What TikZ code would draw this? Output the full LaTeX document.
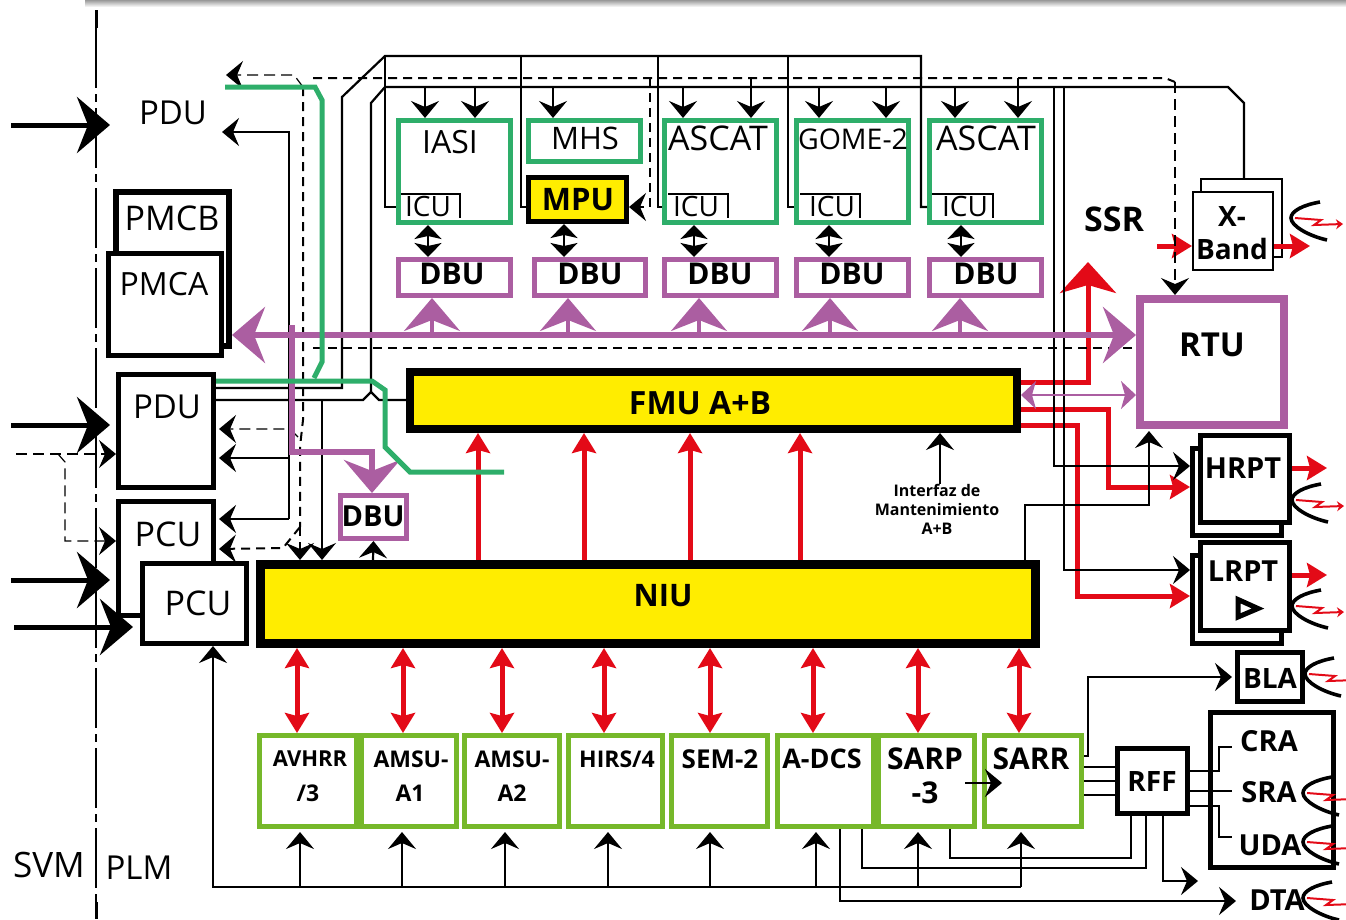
\documentclass[tikz,border=0pt]{standalone}
\usepackage{fontspec}
\setmainfont{Open Sans}
\usetikzlibrary{arrows.meta}

\definecolor{verdeo}{HTML}{2EAE6A}
\definecolor{lima}{HTML}{76B82A}
\definecolor{lila}{HTML}{AB5EA1}
\definecolor{rojo}{HTML}{E30A17}
\definecolor{amar}{HTML}{FFED00}

\tikzset{
  txt/.style={font=\fontsize{#1}{#1}\selectfont,inner sep=0pt},
  txtb/.style={font=\fontsize{#1}{#1}\selectfont\bfseries,inner sep=0pt},
  tam/.style 2 args={minimum width=#1,minimum height=#2,inner sep=0pt},
  negra/.style={draw=black,line width=5pt,fill=white},
  verde/.style={draw=verdeo,line width=5pt,fill=white},
  limab/.style={draw=lima,line width=5pt,fill=white},
  lilab/.style={draw=lila,line width=5pt,fill=white},
  puntagorda/.tip={Stealth[length=33pt,width=56pt,inset=11pt]},
  puntafina/.tip={Stealth[length=17pt,width=28pt,inset=6pt]},
  puntadoble/.tip={Stealth[length=14pt,width=27pt,inset=3pt]},
  puntaroja/.tip={Stealth[length=20pt,width=24pt,inset=3pt]},
  gorda/.style={line width=5pt,-{puntagorda}},
  fina/.style={line width=2.2pt,-{puntafina}},
  doble/.style={line width=2.2pt,{puntadoble}-{puntadoble}},
  linea/.style={line width=2.2pt},
  roja/.style={draw=rojo,line width=5pt,-{puntaroja}},
  rojadoble/.style={draw=rojo,line width=5pt,{puntaroja}-{puntaroja}},
  bus/.style={draw=lila,line width=6pt},
  subida/.style={draw=lila,line width=4pt,-{puntagorda}},
  verdel/.style={draw=verdeo,line width=5pt},
  disc/.style={line width=2pt,dash pattern=on 9pt off 6pt},
  discf/.style={line width=1.2pt,dash pattern=on 11pt off 6pt}
}

\newcommand{\antena}[2]{
  \draw[line width=3.6pt] (#1+29,#2-16) .. controls (#1+12,#2-13) and (#1,#2-7) .. (#1,#2)
    .. controls (#1,#2+8) and (#1+18,#2+18) .. (#1+36,#2+22);
  \draw[draw=rojo,line width=2pt,-{Stealth[length=7pt,width=10pt]}] (#1+4,#2) -- (#1+30,#2+2) -- (#1+23,#2+7) -- (#1+52,#2+6);
}

\begin{document}
\begin{tikzpicture}[x=1pt,y=-1pt]
  \useasboundingbox (0,0) rectangle (1346,919);
  \shade[top color=black!40,bottom color=white] (85,0) rectangle (1346,7);

  % Linea SVM / PLM
  \draw[line width=1.2pt,dash pattern=on 60pt off 6pt on 8pt off 6pt] (96,28) -- (96,902);
  \draw[line width=3pt] (96,10) -- (96,28);
  \draw[line width=3pt] (96,902) -- (96,919);
  \node[txt=35] (svm) at (49,865) {SVM};
  \node[txt=33] (plm) at (139,868) {PLM};

  % Potencia
  \node[txt=33] (pdua) at (173,113) {PDU};
  \node[negra,line width=6pt,tam={113}{154}] (pmcb) at (172.5,269) {};
  \node[negra,tam={113}{102}] (pmca) at (165,304.5) {};
  \node[txt=34] (tpmcb) at (172,218) {PMCB};
  \node[txt=32] (tpmca) at (164,284) {PMCA};
  \node[negra,tam={95}{113}] (pdub) at (166,431) {};
  \node[txt=33] (tpdub) at (167,407) {PDU};
  \node[negra,tam={95}{114}] (pcub) at (166,558.5) {};
  \node[txt=34] (tpcub) at (168,534) {PCU};
  \node[negra,tam={104}{80}] (pcua) at (194.5,603.5) {};
  \node[txt=34] (tpcua) at (198,603) {PCU};

  % Instrumentos de arriba
  \node[verde,tam={112}{102}] (iasi) at (454.5,171.5) {};
  \node[txt=32] (tiasi) at (450,142) {IASI};
  \node[txt=28] (icua) at (428,206) {ICU};
  \node[verde,tam={112}{41}] (mhs) at (584.5,141) {};
  \node[txt=31] (tmhs) at (585,138) {MHS};
  \node[negra,fill=amar,tam={98}{44}] (mpu) at (577.5,199.5) {};
  \node[txtb=31] (tmpu) at (578,200) {MPU};
  \node[verde,tam={112}{102}] (ascata) at (720.5,171.5) {};
  \node[txt=34] (tascata) at (718,138) {ASCAT};
  \node[txt=28] (icub) at (696,206) {ICU};
  \node[verde,tam={112}{102}] (gome) at (852.5,171.5) {};
  \node[txt=28.5] (tgome) at (853,139) {GOME-2};
  \node[txt=28] (icuc) at (832,206) {ICU};
  \node[verde,tam={112}{102}] (ascatb) at (985.5,171.5) {};
  \node[txt=34] (tascatb) at (986,138) {ASCAT};
  \node[txt=28] (icud) at (965,206) {ICU};
  \draw[linea] (401,194) -| (460,218);
  \draw[linea] (668,194) -| (728,218);
  \draw[linea] (800,194) -| (860,218);
  \draw[linea] (932,194) -| (993,218);

  % DBU
  \node[lilab,tam={112}{36}] (dbua) at (454.5,277.5) {};
  \node[txtb=30] (tdbua) at (452,274) {DBU};
  \node[lilab,tam={111}{36}] (dbub) at (590,277.5) {};
  \node[txtb=30] (tdbub) at (590,274) {DBU};
  \node[lilab,tam={112}{36}] (dbuc) at (720.5,277.5) {};
  \node[txtb=30] (tdbuc) at (720,274) {DBU};
  \node[lilab,tam={112}{36}] (dbud) at (852.5,277.5) {};
  \node[txtb=30] (tdbud) at (852,274) {DBU};
  \node[lilab,tam={112}{36}] (dbue) at (985.5,277.5) {};
  \node[txtb=30] (tdbue) at (986,274) {DBU};
  \node[lilab,tam={66}{43}] (dbuf) at (373.5,517) {};
  \node[txtb=29] (tdbuf) at (373,516) {DBU};

  % FMU y NIU
  \node[draw=black,fill=amar,line width=8pt,tam={607}{57}] (fmu) at (713.5,400.5) {};
  \node[txtb=32] (tfmu) at (700,403) {FMU A+B};
  \node[draw=black,fill=amar,line width=9pt,tam={775}{79}] (niu) at (648,604) {};
  \node[txtb=31] (tniu) at (663,596) {NIU};
  \node[txtb=16,font=\fontsize{16}{19}\selectfont\bfseries,align=center] (interfaz) at (937,509) {Interfaz de\\Mantenimiento\\A+B};

  % Instrumentos de abajo
  \node[limab,tam={97}{91}] (avhrr) at (308,781) {};
  \node[txtb=22] (tavhrr) at (310,759) {AVHRR};
  \node[txtb=23] (tavhrrb) at (308,793) {/3};
  \node[limab,tam={95}{91}] (amsua) at (409,781) {};
  \node[txtb=23] (tamsua) at (411,759) {AMSU-};
  \node[txtb=23] (tamsuab) at (410,793) {A1};
  \node[limab,tam={95}{91}] (amsub) at (512,781) {};
  \node[txtb=23] (tamsub) at (512,759) {AMSU-};
  \node[txtb=23] (tamsubb) at (512,793) {A2};
  \node[limab,tam={94}{91}] (hirs) at (615.5,781) {};
  \node[txtb=23] (thirs) at (617,759) {HIRS/4};
  \node[limab,tam={96}{91}] (sem) at (719.5,781) {};
  \node[txtb=26] (tsem) at (720,759) {SEM-2};
  \node[limab,tam={96}{91}] (adcs) at (825.5,781) {};
  \node[txtb=27] (tadcs) at (822,759) {A-DCS};
  \node[limab,tam={96}{91}] (sarp) at (926.5,781) {};
  \node[txtb=30] (tsarp) at (925,759) {SARP};
  \node[txtb=30] (tsarpb) at (925,793) {-3};
  \node[limab,tam={97}{91}] (sarr) at (1033,781) {};
  \node[txtb=30] (tsarr) at (1031,759) {SARR};

  % RTU y transmisores
  \node[txtb=34] (ssr) at (1114,219) {SSR};
  \node[draw=lila,fill=white,line width=8pt,tam={144}{126}] (rtu) at (1212,362) {};
  \node[txtb=33] (trtu) at (1212,345) {RTU};
  \node[negra,line width=2pt,tam={81}{78}] (xbb) at (1241.5,218) {};
  \node[negra,line width=2pt,tam={80}{78}] (xba) at (1233,231) {};
  \node[txtb=28,font=\fontsize{28}{33}\selectfont\bfseries,align=center] (txb) at (1232,233) {X-\\Band};
  \node[negra,tam={89}{87}] (hrptb) at (1237,492) {};
  \node[negra,tam={89}{87}] (hrpta) at (1245,479) {};
  \node[txtb=29] (thrpt) at (1243,468) {HRPT};
  \node[negra,tam={89}{88}] (lrptb) at (1237,599.5) {};
  \node[negra,tam={89}{88}] (lrpta) at (1245,586.5) {};
  \node[txtb=29] (tlrpt) at (1243,571) {LRPT};
  \draw[line width=5pt] (1238,599.5) -- (1258,608.5) -- (1238,617) -- cycle;
  \node[negra,tam={65}{49}] (bla) at (1270,677) {};
  \node[txtb=28] (tbla) at (1270,678) {BLA};
  \node[negra,tam={123}{155}] (radio) at (1272,790) {};
  \node[txtb=29] (cra) at (1269,741) {CRA};
  \node[txtb=29] (sra) at (1269,792) {SRA};
  \node[txtb=29] (uda) at (1270,845) {UDA};
  \node[txtb=29] (dta) at (1277,900) {DTA};
  \node[negra,tam={70}{65}] (rff) at (1152.5,781) {};
  \node[txtb=28] (trff) at (1152,781) {RFF};

  % Antenas
  \antena{1291}{218}
  \antena{1292}{500}
  \antena{1292}{606}
  \antena{1305}{674}
  \antena{1303}{793}
  \antena{1303}{842}
  \antena{1303}{898}

  % Entradas de potencia
  \draw[gorda] (11,125) -- (110,125);
  \draw[gorda] (11,425) -- (110,425);
  \draw[gorda] (11,580) -- (110,580);
  \draw[gorda] (14,627) -- (133,627);
  \draw[discf,-{puntafina}] (16,454) -- (pdub.west |- 0,454);
  \draw[discf,-{puntafina}] (58,454) -- (65,462) -- (65,541) -- (pcub.west |- 0,541);

  % Lineas rojas
  \draw[roja,-{Stealth[length=31pt,width=56pt,inset=8pt]}] (fmu.east |- 0,382) -- (1088,382) -- (1088,262);
  \draw[roja] (fmu.east |- 0,409) -- (1108,409) -- (1108,487) -- (hrptb.west |- 0,487);
  \draw[roja] (fmu.east |- 0,425) -- (1077,425) -- (1077,596) -- (lrptb.west |- 0,596);
  \draw[roja] (1157,246) -- (xba.west |- 0,246);
  \draw[roja] (xba.east |- 0,246) -- (1310,246);
  \draw[roja] (hrpta.east |- 0,468) -- (1327,468);
  \draw[roja] (lrpta.east |- 0,575) -- (1327,575);
  \draw[roja] (478,0 |- niu.north) -- (478,0 |- fmu.south);
  \draw[roja] (584,0 |- niu.north) -- (584,0 |- fmu.south);
  \draw[roja] (690,0 |- niu.north) -- (690,0 |- fmu.south);
  \draw[roja] (800,0 |- niu.north) -- (800,0 |- fmu.south);
  \draw[rojadoble] (297,0 |- niu.south) -- (297,0 |- avhrr.north);
  \draw[rojadoble] (403,0 |- niu.south) -- (403,0 |- amsua.north);
  \draw[rojadoble] (502,0 |- niu.south) -- (502,0 |- amsub.north);
  \draw[rojadoble] (604,0 |- niu.south) -- (604,0 |- hirs.north);
  \draw[rojadoble] (710,0 |- niu.south) -- (710,0 |- sem.north);
  \draw[rojadoble] (813,0 |- niu.south) -- (813,0 |- adcs.north);
  \draw[rojadoble] (918,0 |- niu.south) -- (918,0 |- sarp.north);
  \draw[rojadoble] (1019,0 |- niu.south) -- (1019,0 |- sarr.north);

  % Bus de datos arriba
  \draw[linea] (pdub.east |- 0,388) -- (342,388) -- (342,97) -- (385,56) -- (921,56) -- (921,207) -- (ascatb.west |- 0,207);
  \draw[linea] (385,56) |- (iasi.west |- 0,207);
  \draw[linea] (521,56) |- (mpu.west |- 0,207);
  \draw[linea] (658,56) |- (ascata.west |- 0,207);
  \draw[linea] (788,56) |- (gome.west |- 0,207);
  \draw[linea] (pdub.east |- 0,400) -- (363,400) -- (371,392) -- (379,400) -- (fmu.west |- 0,400);
  \draw[linea] (371,392) -- (371,103) -- (385,87) -- (1228,87) -- (1244,103) -- (1244,0 |- xbb.north);
  \draw[fina] (1054,87) |- (hrptb.west |- 0,466);
  \draw[fina] (1064,87) |- (lrptb.west |- 0,570);
  \draw[fina] (425,87) -- (425,0 |- iasi.north);
  \draw[fina] (475,87) -- (475,0 |- iasi.north);
  \draw[fina] (553,87) -- (553,0 |- mhs.north);
  \draw[fina] (683,87) -- (683,0 |- ascata.north);
  \draw[fina] (751,78) -- (751,0 |- ascata.north);
  \draw[fina] (819,87) -- (819,0 |- gome.north);
  \draw[fina] (886,87) -- (886,0 |- gome.north);
  \draw[fina] (955,87) -- (955,0 |- ascatb.north);
  \draw[fina] (1018,78) -- (1018,0 |- ascatb.north);

  % Entre ICU y DBU
  \draw[doble] (428,0 |- iasi.south) -- (428,0 |- dbua.north);
  \draw[doble] (564,0 |- mpu.south) -- (564,0 |- dbub.north);
  \draw[doble] (694,0 |- ascata.south) -- (694,0 |- dbuc.north);
  \draw[doble] (829,0 |- gome.south) -- (829,0 |- dbud.north);
  \draw[doble] (961,0 |- ascatb.south) -- (961,0 |- dbue.north);

  % Lineas discontinuas
  \draw[disc] (313,78) -- (1165,78) -- (1175,82);
  \draw[discf,-{puntafina}] (1175,82) -- (1175,0 |- rtu.north);
  \draw[disc] (313,348) -- (rtu.west |- 0,348);
  \draw[disc,-{puntafina}] (650,78) |- (mpu.east |- 0,207);
  \draw[disc] (303,87) -- (303,420) -- (300,447) -- (300,527);
  \draw[disc,-{puntafina}] (300,527) -- (300,0 |- niu.north);
  \draw[discf,-{puntafina}] (303,87) -- (294,75) -- (226,75);
  \draw[discf,shorten >=3pt,-{puntafina}] (298,437) -- (290,429) -- (pdub.east |- 0,429);
  \draw[disc,shorten >=3pt,-{puntafina}] (300,527) -- (283,548) -- (pcub.east |- 0,549);

  % Lineas negras a la izquierda
  \draw[fina] (289,519) -- (289,132) -- (222,132);
  \draw[fina,shorten >=3pt] (289,519) -- (pcub.east |- 0,519);
  \draw[fina,shorten >=3pt] (289,458) -- (pdub.east |- 0,458);
  \draw[fina] (322,400) -- (322,0 |- niu.north);
  \draw[fina] (373,0 |- niu.north) -- (dbuf.south);

  % Alimentacion de abajo
  \draw[fina] (1021,887) -- (213,887) -- (213,0 |- pcua.south);
  \draw[fina] (300,887) -- (300,832);
  \draw[fina] (402,887) -- (402,832);
  \draw[fina] (505,887) -- (505,832);
  \draw[fina] (608,887) -- (608,832);
  \draw[fina] (710,887) -- (710,832);
  \draw[fina] (816,887) -- (816,832);
  \draw[fina] (918,887) -- (918,832);
  \draw[fina] (1021,887) -- (1021,832);

  % RFF y antenas
  \draw[fina] (965,783) -- (1002,783);
  \draw[linea] (sarr.east |- 0,767) -- (rff.west |- 0,767);
  \draw[linea] (sarr.east |- 0,781) -- (rff.west |- 0,781);
  \draw[linea] (sarr.east |- 0,795) -- (rff.west |- 0,795);
  \draw[fina,shorten >=3pt] (sarr.east |- 0,756) -- (1088,756) |- (bla.west);
  \draw[linea] (rff.east |- 0,771) -- (1219,771) |- (1232,747);
  \draw[linea] (rff.east |- 0,791) -- (1232,791);
  \draw[linea] (rff.east |- 0,806) -- (1219,806) |- (1232,837);
  \draw[linea] (1131,0 |- rff.south) |- (950,858) -- (950,0 |- sarp.south);
  \draw[linea] (1146,0 |- rff.south) |- (862,868) -- (862,0 |- adcs.south);
  \draw[fina] (1163,0 |- rff.south) |- (1198,881);
  \draw[fina] (840,0 |- adcs.south) |- (1236,901);

  % NIU a RTU
  \draw[fina] (1025,0 |- niu.north) |- (1149,505) -- (1149,431);
  \draw[fina] (940,0 |- interfaz.north) -- (940,0 |- fmu.south);
  \draw[draw=lila,line width=2pt,{Stealth[length=15pt,width=28pt,inset=4pt]}-{Stealth[length=15pt,width=28pt,inset=4pt]}] (fmu.east |- 0,395) -- (rtu.west |- 0,395);

  % Bus lila
  \draw[bus,{puntagorda}-{puntagorda}] (pmcb.east |- 0,335) -- (rtu.west |- 0,335);
  \draw[bus,-{puntagorda}] (292,325) -- (292,452) -- (372,452) -- (372,0 |- dbuf.north);
  \draw[subida] (432,335) -- (432,0 |- dbua.south);
  \draw[subida] (568,335) -- (568,0 |- dbub.south);
  \draw[subida] (699,335) -- (699,0 |- dbuc.south);
  \draw[subida] (830,335) -- (830,0 |- dbud.south);
  \draw[subida] (960,335) -- (960,0 |- dbue.south);

  % Lineas verdes
  \draw[verdel] (225,87) -- (315,87) -- (322,100) -- (322,362) -- (314,378);
  \draw[verdel] (pdub.east |- 0,381) -- (372,381) -- (385,390) -- (385,447) -- (410,472) -- (504,472);
\end{tikzpicture}
\end{document}
